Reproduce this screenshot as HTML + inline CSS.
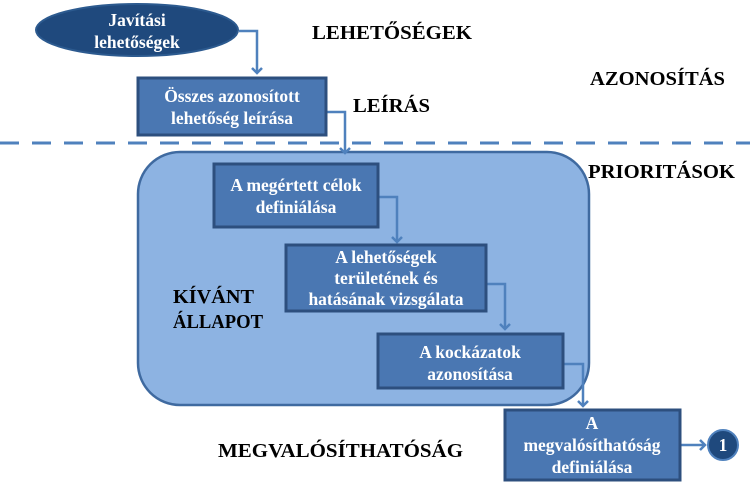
<!DOCTYPE html>
<html><head><meta charset="utf-8"><style>
html,body{margin:0;padding:0;background:#fff;}
svg{display:block;}
.l{font-family:"Liberation Serif",serif;font-weight:bold;font-size:20px;fill:#000;}
.w{font-family:"Liberation Serif",serif;font-weight:bold;font-size:17.5px;fill:#fff;text-anchor:middle;}
</style></head><body>
<svg width="750" height="482" viewBox="0 0 750 482" xmlns="http://www.w3.org/2000/svg">
<defs>
<marker id="a" markerWidth="12" markerHeight="12" refX="6" refY="6" orient="auto" markerUnits="userSpaceOnUse">
<path d="M1,1 L6,6 L1,11" fill="none" stroke="#4f81bd" stroke-width="2.5"/>
</marker>
</defs>
<line x1="0" y1="143" x2="750" y2="143" stroke="#4f81bd" stroke-width="3" stroke-dasharray="19,13"/>
<rect x="138" y="152" width="451" height="253" rx="42" fill="#8db3e2" stroke="#3f6aa0" stroke-width="2.5"/>
<g fill="none" stroke="#4f81bd" stroke-width="2.5">
<polyline points="239,31 257,31 257,73" marker-end="url(#a)"/>
<polyline points="326,112 345,112 345,153" marker-end="url(#a)"/>
<polyline points="378,197 397,197 397,242" marker-end="url(#a)"/>
<polyline points="486,284 505,284 505,329" marker-end="url(#a)"/>
<polyline points="563,364 583,364 583,406" marker-end="url(#a)"/>
<polyline points="680,445 705,445" marker-end="url(#a)"/>
</g>
<ellipse cx="137" cy="30" rx="101" ry="26" fill="#1f497d" stroke="#2c5a8f" stroke-width="2"/>
<text class="w" x="137" y="26">Javítási</text>
<text class="w" x="137" y="48">lehetőségek</text>
<g fill="#4a77b2" stroke="#2d4f7e" stroke-width="3">
<rect x="138" y="78" width="188" height="57"/>
<rect x="214" y="164" width="164" height="63"/>
<rect x="286" y="245" width="200" height="66"/>
<rect x="378" y="334" width="185" height="54"/>
<rect x="505" y="410" width="175" height="70"/>
</g>
<text class="w" x="232" y="102">Összes azonosított</text>
<text class="w" x="232" y="124">lehetőség leírása</text>
<text class="w" x="296" y="191">A megértett célok</text>
<text class="w" x="296" y="213">definiálása</text>
<text class="w" x="386" y="263">A lehetőségek</text>
<text class="w" x="386" y="284">területének és</text>
<text class="w" x="386" y="305">hatásának vizsgálata</text>
<text class="w" x="470" y="358">A kockázatok</text>
<text class="w" x="470" y="380">azonosítása</text>
<text class="w" x="592" y="429">A</text>
<text class="w" x="592" y="451">megvalósíthatóság</text>
<text class="w" x="592" y="473">definiálása</text>
<circle cx="723" cy="445" r="15" fill="#1f497d" stroke="#4f81bd" stroke-width="2"/>
<text class="w" x="723" y="451">1</text>
<text class="l" x="312" y="39" textLength="160" lengthAdjust="spacingAndGlyphs">LEHETŐSÉGEK</text>
<text class="l" x="590" y="85" textLength="135" lengthAdjust="spacingAndGlyphs">AZONOSÍTÁS</text>
<text class="l" x="353" y="112" textLength="77" lengthAdjust="spacingAndGlyphs">LEÍRÁS</text>
<text class="l" x="588" y="178" textLength="147" lengthAdjust="spacingAndGlyphs">PRIORITÁSOK</text>
<text class="l" x="173" y="303" textLength="81" lengthAdjust="spacingAndGlyphs">KÍVÁNT</text>
<text class="l" x="173" y="328" textLength="90" lengthAdjust="spacingAndGlyphs">ÁLLAPOT</text>
<text class="l" x="218" y="457" textLength="245" lengthAdjust="spacingAndGlyphs">MEGVALÓSÍTHATÓSÁG</text>
</svg>
</body></html>
